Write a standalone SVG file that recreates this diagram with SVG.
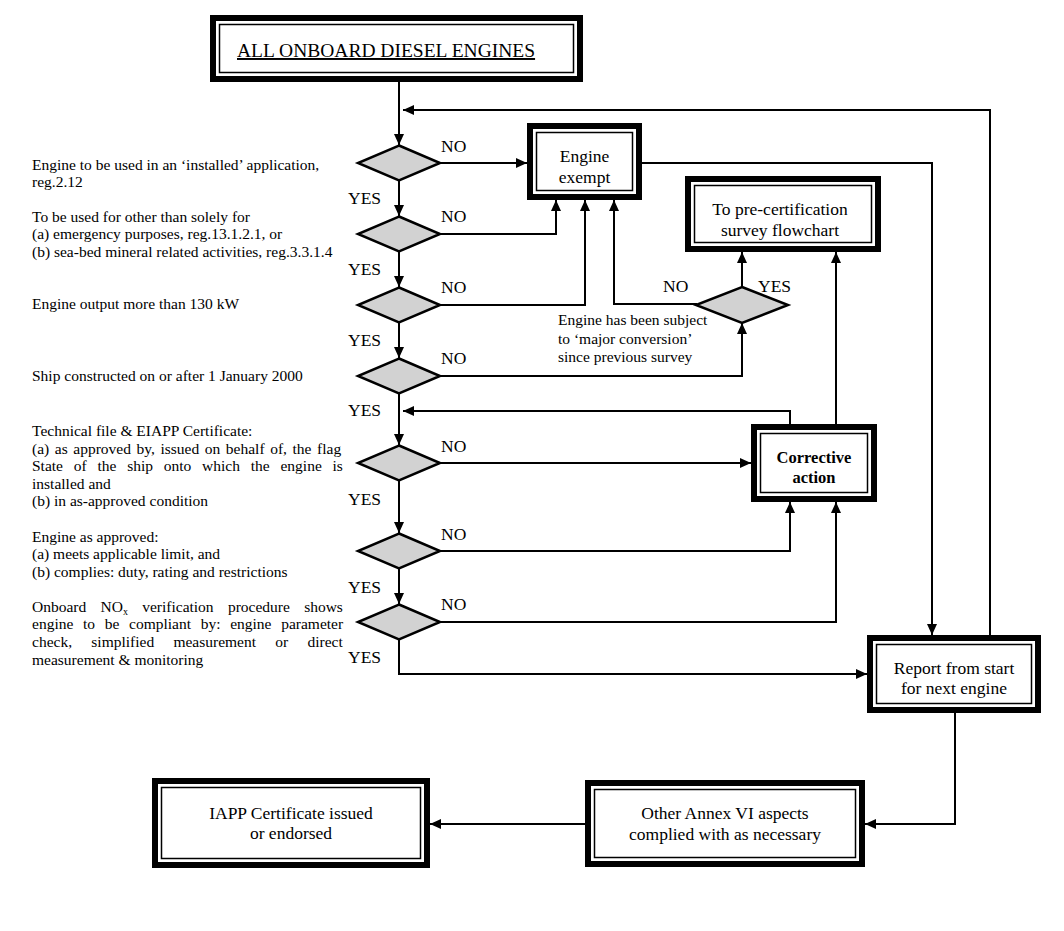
<svg xmlns="http://www.w3.org/2000/svg" width="1064" height="931" viewBox="0 0 1064 931">
<style>
text{font-family:"Liberation Serif","Times New Roman",serif;fill:#000}
.lt{font-size:15.5px}
.lb{font-size:17.5px}
.bt{font-size:17.5px;text-anchor:middle}
.bo{fill:#fff;stroke:#000;stroke-width:6}
.bi{fill:none;stroke:#000;stroke-width:1.5}
.dm{fill:#d2d2d2;stroke:#000;stroke-width:2.5}
.cn{fill:none;stroke:#000;stroke-width:2;marker-end:url(#ah)}
</style>
<defs>
<marker id="ah" markerUnits="userSpaceOnUse" markerWidth="11" markerHeight="10" refX="11" refY="5" orient="auto">
<path d="M0,0 L11,5 L0,10 z" fill="#000"/>
</marker>
</defs>
<rect width="1064" height="931" fill="#fff"/>

<g id="connectors">
<path class="cn" d="M399,82 V145"/>
<path class="cn" d="M990,635 V110 H403"/>
<path class="cn" d="M440,163 H527"/>
<path class="cn" d="M399,180.5 V216"/>
<path class="cn" d="M440,234 H556 V200"/>
<path class="cn" d="M399,251.5 V287"/>
<path class="cn" d="M440,305 H585 V200"/>
<path class="cn" d="M399,322.5 V358"/>
<path class="cn" d="M440,376 H742 V323"/>
<path class="cn" d="M697,304 H614 V200"/>
<path class="cn" d="M742,287 V252"/>
<path class="cn" d="M399,393.5 V445"/>
<path class="cn" d="M790,424 V411 H403"/>
<path class="cn" d="M836,424 V252"/>
<path class="cn" d="M440,463 H751"/>
<path class="cn" d="M399,480.5 V533"/>
<path class="cn" d="M440,551 H790 V502"/>
<path class="cn" d="M399,568.5 V604"/>
<path class="cn" d="M440,622 H836 V502"/>
<path class="cn" d="M399,639.5 V674 H867"/>
<path class="cn" d="M642,163 H932 V635"/>
<path class="cn" d="M955,713 V824 H865"/>
<path class="cn" d="M585,824 H430"/>
</g>

<g id="start">
<rect class="bo" x="213" y="18" width="367" height="61"/>
<rect class="bi" x="219.5" y="24.5" width="354" height="48"/>
<text x="237" y="57" style="font-size:19.5px;text-decoration:underline">ALL ONBOARD DIESEL ENGINES</text>
</g>

<g id="d1">
<polygon class="dm" points="399,145.5 440,163 399,180.5 358,163"/>
<text class="lt" x="32" y="169.5">Engine to be used in an ‘installed’ application,</text>
<text class="lt" x="32" y="187">reg.2.12</text>
<text class="lb" x="441" y="152">NO</text>
<text class="lb" x="348" y="204">YES</text>
</g>

<g id="d2">
<polygon class="dm" points="399,216.5 440,234 399,251.5 358,234"/>
<text class="lt" x="32" y="221.5">To be used for other than solely for</text>
<text class="lt" x="32" y="239">(a) emergency purposes, reg.13.1.2.1, or</text>
<text class="lt" x="32" y="256.5">(b) sea-bed mineral related activities, reg.3.3.1.4</text>
<text class="lb" x="441" y="222">NO</text>
<text class="lb" x="348" y="275">YES</text>
</g>

<g id="d3">
<polygon class="dm" points="399,287.5 440,305 399,322.5 358,305"/>
<text class="lt" x="32" y="308.5">Engine output more than 130 kW</text>
<text class="lb" x="441" y="293">NO</text>
<text class="lb" x="348" y="346">YES</text>
</g>

<g id="d4">
<polygon class="dm" points="399,358.5 440,376 399,393.5 358,376"/>
<text class="lt" x="32" y="380.5">Ship constructed on or after 1 January 2000</text>
<text class="lb" x="441" y="364">NO</text>
<text class="lb" x="348" y="416">YES</text>
</g>

<g id="d5">
<polygon class="dm" points="399,445.5 440,463 399,480.5 358,463"/>
<text class="lt" x="32" y="436">Technical file &amp; EIAPP Certificate:</text>
<text class="lt" x="32" y="453.6" style="word-spacing:1.7px">(a) as approved by, issued on behalf of, the flag</text>
<text class="lt" x="32" y="471.2" style="word-spacing:6.9px">State of the ship onto which the engine is</text>
<text class="lt" x="32" y="488.8">installed and</text>
<text class="lt" x="32" y="506.4">(b) in as-approved condition</text>
<text class="lb" x="441" y="452">NO</text>
<text class="lb" x="348" y="505">YES</text>
</g>

<g id="d6">
<polygon class="dm" points="399,533.5 440,551 399,568.5 358,551"/>
<text class="lt" x="32" y="541.7">Engine as approved:</text>
<text class="lt" x="32" y="559.3">(a) meets applicable limit, and</text>
<text class="lt" x="32" y="576.9">(b) complies: duty, rating and restrictions</text>
<text class="lb" x="441" y="540">NO</text>
<text class="lb" x="348" y="593">YES</text>
</g>

<g id="d7">
<polygon class="dm" points="399,604.5 440,622 399,639.5 358,622"/>
<text class="lt" x="32" y="611.7" style="word-spacing:10.4px">Onboard NO<tspan style="font-size:10px" dy="3">x</tspan><tspan dy="-3"> verification procedure shows</tspan></text>
<text class="lt" x="32" y="629.3" style="word-spacing:5.8px">engine to be compliant by: engine parameter</text>
<text class="lt" x="32" y="646.9" style="word-spacing:15.4px">check, simplified measurement or direct</text>
<text class="lt" x="32" y="664.5">measurement &amp; monitoring</text>
<text class="lb" x="441" y="610">NO</text>
<text class="lb" x="348" y="663">YES</text>
</g>

<g id="exempt">
<rect class="bo" x="530" y="126" width="109" height="71"/>
<rect class="bi" x="536.5" y="132.5" width="96" height="58"/>
<text class="bt" x="584.5" y="162">Engine</text>
<text class="bt" x="584.5" y="183">exempt</text>
</g>

<g id="precert">
<rect class="bo" x="688" y="179" width="190" height="70"/>
<rect class="bi" x="694.5" y="185.5" width="177" height="57"/>
<text class="bt" x="780" y="215">To pre-certification</text>
<text class="bt" x="780" y="236">survey flowchart</text>
</g>

<g id="conversion">
<polygon class="dm" points="742,287 788,305 742,323 696,305"/>
<text class="lt" x="558" y="325">Engine has been subject</text>
<text class="lt" x="558" y="343.5">to ‘major conversion’</text>
<text class="lt" x="558" y="362">since previous survey</text>
<text class="lb" x="663" y="292">NO</text>
<text class="lb" x="758" y="292">YES</text>
</g>

<g id="corrective">
<rect class="bo" x="754" y="427" width="120" height="72"/>
<rect class="bi" x="760.5" y="433.5" width="107" height="59"/>
<text class="bt" x="814" y="463" style="font-weight:bold;font-size:16.5px">Corrective</text>
<text class="bt" x="814" y="483" style="font-weight:bold;font-size:16.5px">action</text>
</g>

<g id="report">
<rect class="bo" x="870" y="638" width="168" height="72"/>
<rect class="bi" x="876.5" y="644.5" width="155" height="59"/>
<text class="bt" x="954" y="674">Report from start</text>
<text class="bt" x="954" y="694">for next engine</text>
</g>

<g id="annex">
<rect class="bo" x="588" y="783" width="274" height="81"/>
<rect class="bi" x="594.5" y="789.5" width="261" height="68"/>
<text class="bt" x="725" y="819">Other Annex VI aspects</text>
<text class="bt" x="725" y="840">complied with as necessary</text>
</g>

<g id="iapp">
<rect class="bo" x="155" y="781" width="272" height="84"/>
<rect class="bi" x="161.5" y="787.5" width="259" height="71"/>
<text class="bt" x="291" y="819">IAPP Certificate issued</text>
<text class="bt" x="291" y="839">or endorsed</text>
</g>
</svg>
